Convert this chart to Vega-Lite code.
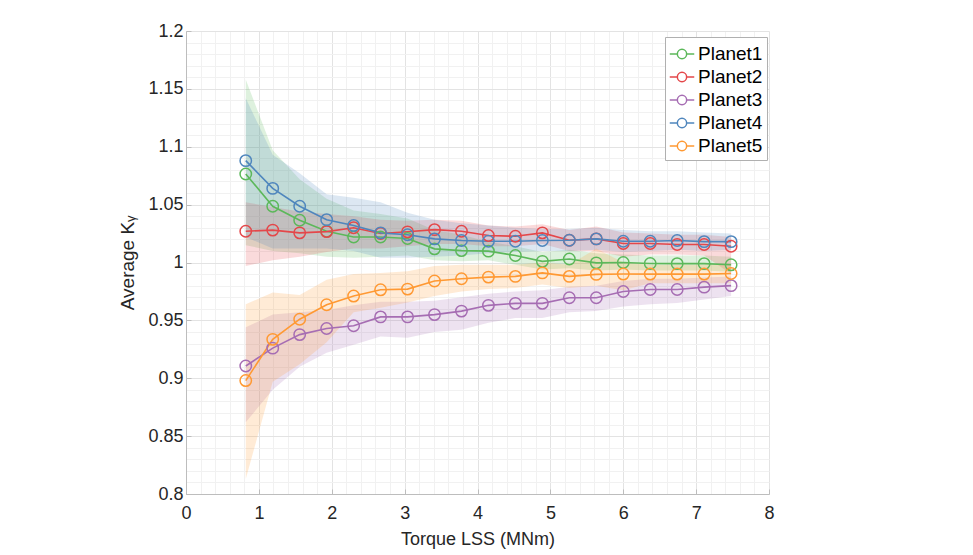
{
  "$schema": "https://vega.github.io/schema/vega-lite/v6.json",
  "width": 583,
  "height": 463,
  "autosize": {"type": "none"},
  "padding": {"left": 186, "top": 31, "right": 204, "bottom": 61},
  "background": "white",
  "config": {
    "font": "Liberation Sans",
    "view": {"stroke": null},
    "axis": {"labelFont": "Liberation Sans", "titleFont": "Liberation Sans", "labelColor": "#262626", "titleColor": "#262626", "labelFontSize": 18, "titleFontSize": 18, "titleFontWeight": "normal", "domainColor": "#bdbdbd", "domainWidth": 1, "tickColor": "#bdbdbd", "labelOverlap": false}
  },
  "data": {"values": [
    {"planet": "Planet1", "torque": 0.82, "mean": 1.0765, "lo": 1.015, "hi": 1.158},
    {"planet": "Planet1", "torque": 1.19, "mean": 1.0486, "lo": 1.010, "hi": 1.097},
    {"planet": "Planet1", "torque": 1.56, "mean": 1.0365, "lo": 1.008, "hi": 1.072},
    {"planet": "Planet1", "torque": 1.93, "mean": 1.027, "lo": 1.005, "hi": 1.055},
    {"planet": "Planet1", "torque": 2.30, "mean": 1.022, "lo": 1.004, "hi": 1.045},
    {"planet": "Planet1", "torque": 2.67, "mean": 1.022, "lo": 1.005, "hi": 1.042},
    {"planet": "Planet1", "torque": 3.04, "mean": 1.0207, "lo": 1.006, "hi": 1.038},
    {"planet": "Planet1", "torque": 3.41, "mean": 1.0118, "lo": 1.002, "hi": 1.028},
    {"planet": "Planet1", "torque": 3.78, "mean": 1.0103, "lo": 1.001, "hi": 1.024},
    {"planet": "Planet1", "torque": 4.15, "mean": 1.0098, "lo": 1.002, "hi": 1.018},
    {"planet": "Planet1", "torque": 4.52, "mean": 1.006, "lo": 0.998, "hi": 1.014},
    {"planet": "Planet1", "torque": 4.89, "mean": 1.001, "lo": 0.994, "hi": 1.009},
    {"planet": "Planet1", "torque": 5.26, "mean": 1.003, "lo": 0.995, "hi": 1.011},
    {"planet": "Planet1", "torque": 5.63, "mean": 0.9997, "lo": 0.993, "hi": 1.008},
    {"planet": "Planet1", "torque": 6.00, "mean": 1.0, "lo": 0.994, "hi": 1.007},
    {"planet": "Planet1", "torque": 6.37, "mean": 0.9991, "lo": 0.993, "hi": 1.006},
    {"planet": "Planet1", "torque": 6.74, "mean": 0.999, "lo": 0.993, "hi": 1.006},
    {"planet": "Planet1", "torque": 7.11, "mean": 0.999, "lo": 0.993, "hi": 1.006},
    {"planet": "Planet1", "torque": 7.48, "mean": 0.998, "lo": 0.992, "hi": 1.005},
    {"planet": "Planet2", "torque": 0.82, "mean": 1.027, "lo": 0.997, "hi": 1.052},
    {"planet": "Planet2", "torque": 1.19, "mean": 1.028, "lo": 1.002, "hi": 1.048},
    {"planet": "Planet2", "torque": 1.56, "mean": 1.0256, "lo": 1.005, "hi": 1.044},
    {"planet": "Planet2", "torque": 1.93, "mean": 1.0267, "lo": 1.009, "hi": 1.042},
    {"planet": "Planet2", "torque": 2.30, "mean": 1.030, "lo": 1.012, "hi": 1.040},
    {"planet": "Planet2", "torque": 2.67, "mean": 1.025, "lo": 1.012, "hi": 1.037},
    {"planet": "Planet2", "torque": 3.04, "mean": 1.0265, "lo": 1.014, "hi": 1.036},
    {"planet": "Planet2", "torque": 3.41, "mean": 1.0284, "lo": 1.016, "hi": 1.037},
    {"planet": "Planet2", "torque": 3.78, "mean": 1.027, "lo": 1.016, "hi": 1.036},
    {"planet": "Planet2", "torque": 4.15, "mean": 1.0233, "lo": 1.014, "hi": 1.032},
    {"planet": "Planet2", "torque": 4.52, "mean": 1.0227, "lo": 1.014, "hi": 1.031},
    {"planet": "Planet2", "torque": 4.89, "mean": 1.0256, "lo": 1.016, "hi": 1.033},
    {"planet": "Planet2", "torque": 5.26, "mean": 1.0192, "lo": 1.010, "hi": 1.028},
    {"planet": "Planet2", "torque": 5.63, "mean": 1.0204, "lo": 1.010, "hi": 1.031},
    {"planet": "Planet2", "torque": 6.00, "mean": 1.0164, "lo": 1.005, "hi": 1.026},
    {"planet": "Planet2", "torque": 6.37, "mean": 1.0164, "lo": 1.007, "hi": 1.025},
    {"planet": "Planet2", "torque": 6.74, "mean": 1.0155, "lo": 1.007, "hi": 1.024},
    {"planet": "Planet2", "torque": 7.11, "mean": 1.0155, "lo": 1.006, "hi": 1.024},
    {"planet": "Planet2", "torque": 7.48, "mean": 1.014, "lo": 0.990, "hi": 1.022},
    {"planet": "Planet3", "torque": 0.82, "mean": 0.9106, "lo": 0.862, "hi": 0.944},
    {"planet": "Planet3", "torque": 1.19, "mean": 0.926, "lo": 0.890, "hi": 0.955},
    {"planet": "Planet3", "torque": 1.56, "mean": 0.9377, "lo": 0.910, "hi": 0.957},
    {"planet": "Planet3", "torque": 1.93, "mean": 0.943, "lo": 0.922, "hi": 0.959},
    {"planet": "Planet3", "torque": 2.30, "mean": 0.9454, "lo": 0.929, "hi": 0.963},
    {"planet": "Planet3", "torque": 2.67, "mean": 0.953, "lo": 0.936, "hi": 0.966},
    {"planet": "Planet3", "torque": 3.04, "mean": 0.953, "lo": 0.935, "hi": 0.966},
    {"planet": "Planet3", "torque": 3.41, "mean": 0.955, "lo": 0.940, "hi": 0.967},
    {"planet": "Planet3", "torque": 3.78, "mean": 0.958, "lo": 0.942, "hi": 0.970},
    {"planet": "Planet3", "torque": 4.15, "mean": 0.963, "lo": 0.948, "hi": 0.973},
    {"planet": "Planet3", "torque": 4.52, "mean": 0.9647, "lo": 0.952, "hi": 0.975},
    {"planet": "Planet3", "torque": 4.89, "mean": 0.9647, "lo": 0.952, "hi": 0.976},
    {"planet": "Planet3", "torque": 5.26, "mean": 0.9695, "lo": 0.957, "hi": 0.979},
    {"planet": "Planet3", "torque": 5.63, "mean": 0.9695, "lo": 0.958, "hi": 0.980},
    {"planet": "Planet3", "torque": 6.00, "mean": 0.975, "lo": 0.962, "hi": 0.984},
    {"planet": "Planet3", "torque": 6.37, "mean": 0.9767, "lo": 0.964, "hi": 0.986},
    {"planet": "Planet3", "torque": 6.74, "mean": 0.9767, "lo": 0.965, "hi": 0.986},
    {"planet": "Planet3", "torque": 7.11, "mean": 0.9787, "lo": 0.968, "hi": 0.987},
    {"planet": "Planet3", "torque": 7.48, "mean": 0.980, "lo": 0.971, "hi": 0.988},
    {"planet": "Planet4", "torque": 0.82, "mean": 1.088, "lo": 1.022, "hi": 1.142},
    {"planet": "Planet4", "torque": 1.19, "mean": 1.064, "lo": 1.012, "hi": 1.093},
    {"planet": "Planet4", "torque": 1.56, "mean": 1.0486, "lo": 1.012, "hi": 1.077},
    {"planet": "Planet4", "torque": 1.93, "mean": 1.037, "lo": 1.012, "hi": 1.059},
    {"planet": "Planet4", "torque": 2.30, "mean": 1.032, "lo": 1.010, "hi": 1.056},
    {"planet": "Planet4", "torque": 2.67, "mean": 1.0256, "lo": 1.004, "hi": 1.052},
    {"planet": "Planet4", "torque": 3.04, "mean": 1.024, "lo": 1.004, "hi": 1.043},
    {"planet": "Planet4", "torque": 3.41, "mean": 1.0204, "lo": 1.005, "hi": 1.037},
    {"planet": "Planet4", "torque": 3.78, "mean": 1.019, "lo": 1.006, "hi": 1.034},
    {"planet": "Planet4", "torque": 4.15, "mean": 1.0184, "lo": 1.008, "hi": 1.032},
    {"planet": "Planet4", "torque": 4.52, "mean": 1.0184, "lo": 1.009, "hi": 1.030},
    {"planet": "Planet4", "torque": 4.89, "mean": 1.019, "lo": 1.010, "hi": 1.029},
    {"planet": "Planet4", "torque": 5.26, "mean": 1.0192, "lo": 1.010, "hi": 1.029},
    {"planet": "Planet4", "torque": 5.63, "mean": 1.0204, "lo": 1.011, "hi": 1.030},
    {"planet": "Planet4", "torque": 6.00, "mean": 1.0184, "lo": 1.009, "hi": 1.028},
    {"planet": "Planet4", "torque": 6.37, "mean": 1.0184, "lo": 1.010, "hi": 1.027},
    {"planet": "Planet4", "torque": 6.74, "mean": 1.019, "lo": 1.011, "hi": 1.027},
    {"planet": "Planet4", "torque": 7.11, "mean": 1.018, "lo": 1.010, "hi": 1.026},
    {"planet": "Planet4", "torque": 7.48, "mean": 1.018, "lo": 1.011, "hi": 1.025},
    {"planet": "Planet5", "torque": 0.82, "mean": 0.898, "lo": 0.813, "hi": 0.964},
    {"planet": "Planet5", "torque": 1.19, "mean": 0.9336, "lo": 0.897, "hi": 0.974},
    {"planet": "Planet5", "torque": 1.56, "mean": 0.951, "lo": 0.912, "hi": 0.972},
    {"planet": "Planet5", "torque": 1.93, "mean": 0.9635, "lo": 0.931, "hi": 0.985},
    {"planet": "Planet5", "torque": 2.30, "mean": 0.971, "lo": 0.957, "hi": 0.990},
    {"planet": "Planet5", "torque": 2.67, "mean": 0.9764, "lo": 0.961, "hi": 0.991},
    {"planet": "Planet5", "torque": 3.04, "mean": 0.977, "lo": 0.9655, "hi": 0.9925},
    {"planet": "Planet5", "torque": 3.41, "mean": 0.984, "lo": 0.971, "hi": 0.997},
    {"planet": "Planet5", "torque": 3.78, "mean": 0.986, "lo": 0.975, "hi": 0.998},
    {"planet": "Planet5", "torque": 4.15, "mean": 0.9874, "lo": 0.977, "hi": 0.998},
    {"planet": "Planet5", "torque": 4.52, "mean": 0.988, "lo": 0.978, "hi": 0.998},
    {"planet": "Planet5", "torque": 4.89, "mean": 0.991, "lo": 0.981, "hi": 1.000},
    {"planet": "Planet5", "torque": 5.26, "mean": 0.988, "lo": 0.978, "hi": 0.998},
    {"planet": "Planet5", "torque": 5.63, "mean": 0.9897, "lo": 0.980, "hi": 1.012},
    {"planet": "Planet5", "torque": 6.00, "mean": 0.990, "lo": 0.976, "hi": 1.000},
    {"planet": "Planet5", "torque": 6.37, "mean": 0.990, "lo": 0.982, "hi": 0.998},
    {"planet": "Planet5", "torque": 6.74, "mean": 0.990, "lo": 0.982, "hi": 0.998},
    {"planet": "Planet5", "torque": 7.11, "mean": 0.990, "lo": 0.982, "hi": 0.998},
    {"planet": "Planet5", "torque": 7.48, "mean": 0.9905, "lo": 0.982, "hi": 0.999}
  ]},
  "encoding": {
    "x": {
      "field": "torque", "type": "quantitative",
      "scale": {"domain": [0, 8], "nice": false, "zero": false},
      "axis": {
        "title": "Torque LSS (MNm)",
        "values": [0, 0.2, 0.4, 0.6, 0.8, 1, 1.2, 1.4, 1.6, 1.8, 2, 2.2, 2.4, 2.6, 2.8, 3, 3.2, 3.4, 3.6, 3.8, 4, 4.2, 4.4, 4.6, 4.8, 5, 5.2, 5.4, 5.6, 5.8, 6, 6.2, 6.4, 6.6, 6.8, 7, 7.2, 7.4, 7.6, 7.8, 8],
        "labelExpr": "abs(datum.value - round(datum.value)) < 0.001 ? format(datum.value, 'd') : ''",
        "labelOverlap": false,
        "grid": true,
        "gridColor": {"condition": {"test": "abs(datum.value - round(datum.value)) < 0.001", "value": "#e3e3e3"}, "value": "#f1f1f1"},
        "tickSize": {"condition": {"test": "abs(datum.value - round(datum.value)) < 0.001", "value": -5}, "value": 0},
        "labelPadding": 15,
        "titlePadding": 3,
        "labelFlush": false
      }
    },
    "y": {
      "field": "mean", "type": "quantitative",
      "scale": {"domain": [0.8, 1.2], "nice": false, "zero": false},
      "axis": {
        "title": "Average  Kᵧ",
        "titleFontSize": 19,
        "values": [0.8, 0.81, 0.82, 0.83, 0.84, 0.85, 0.86, 0.87, 0.88, 0.89, 0.9, 0.91, 0.92, 0.93, 0.94, 0.95, 0.96, 0.97, 0.98, 0.99, 1, 1.01, 1.02, 1.03, 1.04, 1.05, 1.06, 1.07, 1.08, 1.09, 1.1, 1.11, 1.12, 1.13, 1.14, 1.15, 1.16, 1.17, 1.18, 1.19, 1.2],
        "labelExpr": "abs(datum.value * 20 - round(datum.value * 20)) < 0.001 ? format(datum.value, '~g') : ''",
        "labelOverlap": false,
        "grid": true,
        "gridColor": {"condition": {"test": "abs(datum.value * 20 - round(datum.value * 20)) < 0.001", "value": "#e3e3e3"}, "value": "#f1f1f1"},
        "tickSize": {"condition": {"test": "abs(datum.value * 20 - round(datum.value * 20)) < 0.001", "value": -5}, "value": 0},
        "labelPadding": 8,
        "titlePadding": 10,
        "labelFlush": false
      }
    }
  },
  "layer": [
    {
      "encoding": {
        "y": {
          "field": "lo", "type": "quantitative",
          "axis": {
            "title": "Average  Kᵧ",
            "titleFontSize": 19,
            "values": [0.8, 0.81, 0.82, 0.83, 0.84, 0.85, 0.86, 0.87, 0.88, 0.89, 0.9, 0.91, 0.92, 0.93, 0.94, 0.95, 0.96, 0.97, 0.98, 0.99, 1, 1.01, 1.02, 1.03, 1.04, 1.05, 1.06, 1.07, 1.08, 1.09, 1.1, 1.11, 1.12, 1.13, 1.14, 1.15, 1.16, 1.17, 1.18, 1.19, 1.2],
            "labelExpr": "abs(datum.value * 20 - round(datum.value * 20)) < 0.001 ? format(datum.value, '~g') : ''",
            "labelOverlap": false,
            "grid": true,
            "gridColor": {"condition": {"test": "abs(datum.value * 20 - round(datum.value * 20)) < 0.001", "value": "#e3e3e3"}, "value": "#f1f1f1"},
            "tickSize": {"condition": {"test": "abs(datum.value * 20 - round(datum.value * 20)) < 0.001", "value": -5}, "value": 0},
            "labelPadding": 8,
            "titlePadding": 10,
            "labelFlush": false
          }
        },
        "y2": {"field": "hi"}
      },
      "layer": [
        {"transform": [{"filter": "datum.planet === 'Planet1'"}], "mark": {"type": "area", "opacity": 0.2, "color": "#5cb85a"}},
        {"transform": [{"filter": "datum.planet === 'Planet2'"}], "mark": {"type": "area", "opacity": 0.2, "color": "#e4474a"}},
        {"transform": [{"filter": "datum.planet === 'Planet3'"}], "mark": {"type": "area", "opacity": 0.2, "color": "#a66db3"}},
        {"transform": [{"filter": "datum.planet === 'Planet4'"}], "mark": {"type": "area", "opacity": 0.2, "color": "#4f86bd"}},
        {"transform": [{"filter": "datum.planet === 'Planet5'"}], "mark": {"type": "area", "opacity": 0.2, "color": "#ff9933"}}
      ]
    },
    {
      "mark": {"type": "line", "strokeWidth": 1.6},
      "encoding": {
        "color": {
          "field": "planet", "type": "nominal",
          "scale": {"domain": ["Planet1", "Planet2", "Planet3", "Planet4", "Planet5"], "range": ["#5cb85a", "#e4474a", "#a66db3", "#4f86bd", "#ff9933"]},
          "legend": {
            "title": null,
            "orient": "none",
            "legendX": 479,
            "legendY": 6,
            "fillColor": "white",
            "strokeColor": "#b0b0b0",
            "padding": 4,
            "labelFont": "Liberation Sans",
            "labelFontSize": 19,
            "labelColor": "black",
            "labelOffset": 3,
            "rowPadding": 0,
            "symbolType": "M -1 0 L -0.38 0 M 0.38 0 L 1 0 M 0.38 0 A 0.38 0.38 0 1 1 -0.38 0 A 0.38 0.38 0 1 1 0.38 0",
            "symbolSize": 600,
            "symbolStrokeWidth": 1.5,
            "symbolOpacity": 1
          }
        }
      }
    },
    {
      "mark": {"type": "point", "shape": "circle", "filled": false, "size": 130, "strokeWidth": 1.5, "opacity": 1},
      "encoding": {
        "color": {
          "field": "planet", "type": "nominal",
          "scale": {"domain": ["Planet1", "Planet2", "Planet3", "Planet4", "Planet5"], "range": ["#5cb85a", "#e4474a", "#a66db3", "#4f86bd", "#ff9933"]},
          "legend": {
            "title": null,
            "orient": "none",
            "legendX": 479,
            "legendY": 6,
            "fillColor": "white",
            "strokeColor": "#b0b0b0",
            "padding": 4,
            "labelFont": "Liberation Sans",
            "labelFontSize": 19,
            "labelColor": "black",
            "labelOffset": 3,
            "rowPadding": 0,
            "symbolType": "M -1 0 L -0.38 0 M 0.38 0 L 1 0 M 0.38 0 A 0.38 0.38 0 1 1 -0.38 0 A 0.38 0.38 0 1 1 0.38 0",
            "symbolSize": 600,
            "symbolStrokeWidth": 1.5,
            "symbolOpacity": 1
          }
        }
      }
    }
  ]
}
